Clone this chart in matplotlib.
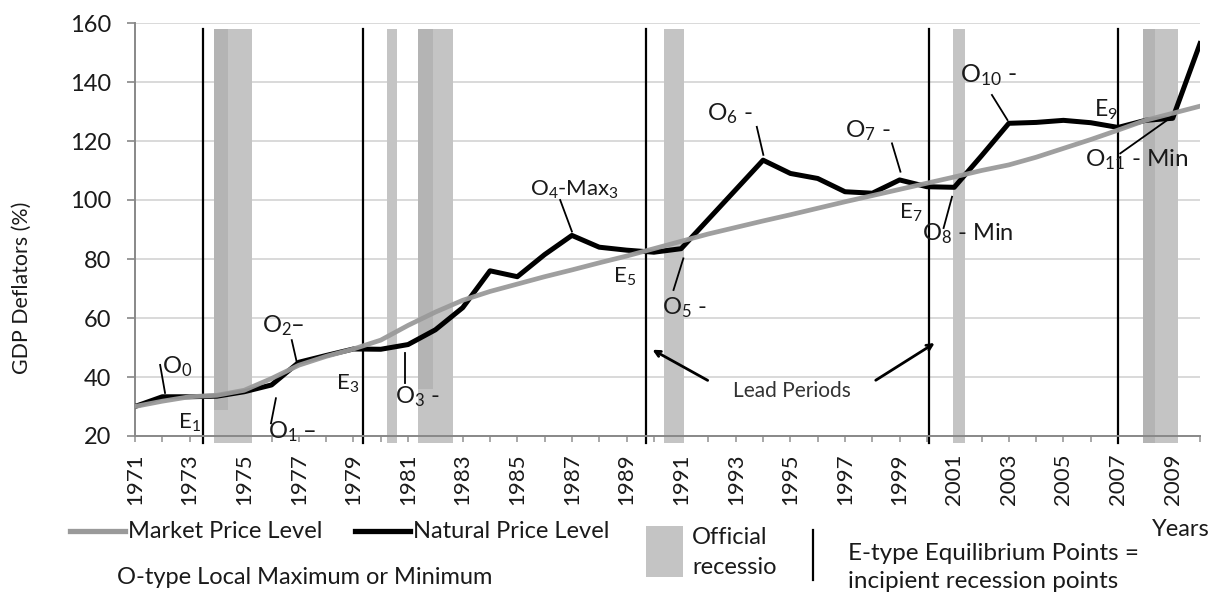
import matplotlib
matplotlib.use("Agg")
import matplotlib.pyplot as plt
from matplotlib.lines import Line2D
from matplotlib.patches import Rectangle

plt.rcParams['font.family'] = ['Lato', 'DejaVu Sans']
plt.rcParams['mathtext.default'] = 'regular'

years = list(range(1971, 2011))
market_price = [30, 31.8, 33.3, 33.8, 35.5, 39.5, 44, 47, 49.5, 52.5,
                57.5, 62, 66, 69, 71.5, 74, 76.3, 78.7, 81, 83.5,
                86, 88.5, 90.7, 92.9, 95, 97.2, 99.4, 101.5, 103.6, 105.7,
                107.8, 110, 111.9, 114.5, 117.5, 120.5, 123.7, 127, 129.4, 131.8]
natural_price = [30, 33.3, 33.3, 33.5, 35, 37.3, 45, 47.3, 49.5, 49.4,
                 51, 56, 63.5, 76, 74, 81.5, 88, 84, 83, 82.3,
                 83.5, 93.5, 103.5, 113.5, 109, 107.3, 102.8, 102.3, 106.8, 104.5,
                 104.3, 115, 126, 126.3, 127, 126.2, 124.6, 127, 127.7, 153]

recession_start = [1973.90, 1980.22, 1981.38, 1990.39, 2000.97, 2007.93]
recession_end = [1975.27, 1980.59, 1982.66, 1991.12, 2001.40, 2009.21]
equilibrium_points = [1973.50, 1979.36, 1989.71, 2000.06, 2006.99]

# darker overlapping shading seen at the left edge of some bands
overlay_start = [1973.90, 1981.38, 2007.93]
overlay_end = [1974.41, 1981.93, 2008.37]
overlay_bottom = [28.8, 36.0, 17.6]

# labels: text, (x, y) of text, leader line start/end (or None), size
labels = [
    ("O$_0$", (1972.54, 43.4), ((1971.92, 44.1), (1972.10, 34.6)), 17),
    ("E$_1$", (1973.01, 24.4), None, 16),
    ("O$_2$\u2013", (1976.42, 57.3), ((1976.74, 52.5), (1976.92, 45.2)), 17),
    ("O$_1$ \u2013", (1976.75, 21.4), ((1976.16, 32.8), (1975.98, 24.3)), 17),
    ("E$_3$", (1978.80, 37.6), None, 16),
    ("O$_3$ -", (1981.33, 33.2), ((1980.89, 48.1), (1980.89, 38.0)), 17),
    ("O$_4$-Max$_3$", (1987.08, 103.4), ((1986.57, 100.0), (1987.0, 89.3)), 16),
    ("E$_5$", (1988.91, 73.9), None, 16),
    ("O$_5$ -", (1991.11, 63.4), ((1991.08, 80.2), (1990.72, 69.5)), 17),
    ("O$_6$ -", (1992.79, 129.2), ((1993.77, 124.8), (1994.01, 115.3)), 17.5),
    ("O$_7$ -", (1997.85, 123.4), ((1998.72, 119.2), (1999.03, 109.6)), 17.5),
    ("E$_7$", (1999.40, 95.6), None, 16),
    ("O$_8$ - Min", (2001.50, 88.6), ((2000.92, 101.1), (2000.61, 90.5)), 17),
    ("O$_{10}$ -", (2002.25, 142.4), ((2002.38, 135.6), (2002.95, 127.1)), 18),
    ("E$_9$", (2006.57, 130.5), None, 16.5),
    ("O$_{11}$ - Min", (2007.70, 113.6), ((2007.08, 115.8), (2008.97, 128.2)), 17.5),
]

fig = plt.figure(figsize=(12.15, 5.92), dpi=100)
ax = fig.add_axes([135 / 1215, 1 - 436 / 592, 1065 / 1215, 413 / 592])

for s, e in zip(recession_start, recession_end):
    ax.add_patch(Rectangle((s, 17.6), e - s, 140.2, facecolor='#c4c4c4',
                           edgecolor='none', zorder=1, clip_on=False))
for s, e, b in zip(overlay_start, overlay_end, overlay_bottom):
    ax.add_patch(Rectangle((s, b), e - s, 157.8 - b, facecolor='#b4b4b4',
                           edgecolor='none', zorder=1, clip_on=False))

for x in equilibrium_points:
    ax.add_line(Line2D([x, x], [17.6, 157.8], color='black', lw=1.6,
                       zorder=2, clip_on=False))

ax.plot(years, natural_price, color='black', lw=3.6, zorder=3,
        solid_joinstyle='round')
ax.plot(years, market_price, color='#9a9a9a', lw=3.4, zorder=4, alpha=0.95,
        solid_joinstyle='round')

txt_color = '#1a1a1a'
for text, pos, leader, size in labels:
    ax.text(pos[0], pos[1], text, ha='center', va='center', fontsize=size,
            color=txt_color, zorder=6, clip_on=False)
    if leader is not None:
        ax.plot([leader[0][0], leader[1][0]], [leader[0][1], leader[1][1]],
                color='black', lw=1.3, zorder=5, clip_on=False)

ax.text(1995.07, 35.3, "Lead Periods", ha='center', va='center',
        fontsize=15, color='#333333', zorder=6)
ax.annotate("", xy=(1989.86, 49.7), xytext=(1992.06, 38.4),
            arrowprops=dict(arrowstyle='->', color='black', lw=2), zorder=6)
ax.annotate("", xy=(2000.37, 52.0), xytext=(1998.04, 38.4),
            arrowprops=dict(arrowstyle='->', color='black', lw=2), zorder=6)

ax.set_xlim(1971, 2010)
ax.set_ylim(20, 160)
ax.set_yticks(range(20, 161, 20))
ax.set_xticks(years)
ax.set_xticklabels([str(y) if y % 2 == 1 else '' for y in years], rotation=90)
ax.tick_params(axis='y', length=6, width=1.2, color='#888888', labelsize=17,
               pad=11, labelcolor=txt_color)
ax.tick_params(axis='x', length=4.5, width=1.2, color='#999999', labelsize=16,
               pad=8, labelcolor=txt_color)
ax.grid(axis='y', color='#d9d9d9', lw=1.4, zorder=0)
ax.set_axisbelow(True)
for side in ['top', 'right']:
    ax.spines[side].set_visible(False)
for side in ['left', 'bottom']:
    ax.spines[side].set_color('#888888')
    ax.spines[side].set_linewidth(1.4)

# handmade legend below the plot
def fx(px):
    return px / 1215

def fy(py):
    return 1 - py / 592

fig.text(fx(22), fy(288), "GDP Deflators (%)", fontsize=15.4, rotation=90,
         ha='center', va='center', color=txt_color)

fig.add_artist(Line2D([fx(70), fx(125)], [fy(531), fy(531)], color='#9a9a9a', lw=3.8))
fig.text(fx(128), fy(531), "Market Price Level", fontsize=17, va='center', color=txt_color)
fig.add_artist(Line2D([fx(355), fx(410)], [fy(531), fy(531)], color='black', lw=3.8))
fig.text(fx(413), fy(531), "Natural Price Level", fontsize=17, va='center', color=txt_color)
fig.text(fx(117), fy(577), "O-type Local Maximum or Minimum", fontsize=17, va='center',
         color=txt_color)
fig.add_artist(Rectangle((fx(646), fy(577)), fx(37), 51 / 592, facecolor='#c4c4c4',
                         edgecolor='none'))
fig.text(fx(692), fy(538), "Official", fontsize=17, va='center', color=txt_color)
fig.text(fx(692), fy(568), "recessio", fontsize=17, va='center', color=txt_color)
fig.add_artist(Line2D([fx(813), fx(813)], [fy(530), fy(580)], color='black', lw=1.6))
fig.text(fx(848), fy(554), "E-type Equilibrium Points =", fontsize=17.5, va='center',
         color=txt_color)
fig.text(fx(848), fy(582), "incipient recession points", fontsize=17.5, va='center',
         color=txt_color)
fig.text(fx(1152), fy(529), "Years", fontsize=17, va='center', color=txt_color)

fig.savefig("out.png", dpi=100)
